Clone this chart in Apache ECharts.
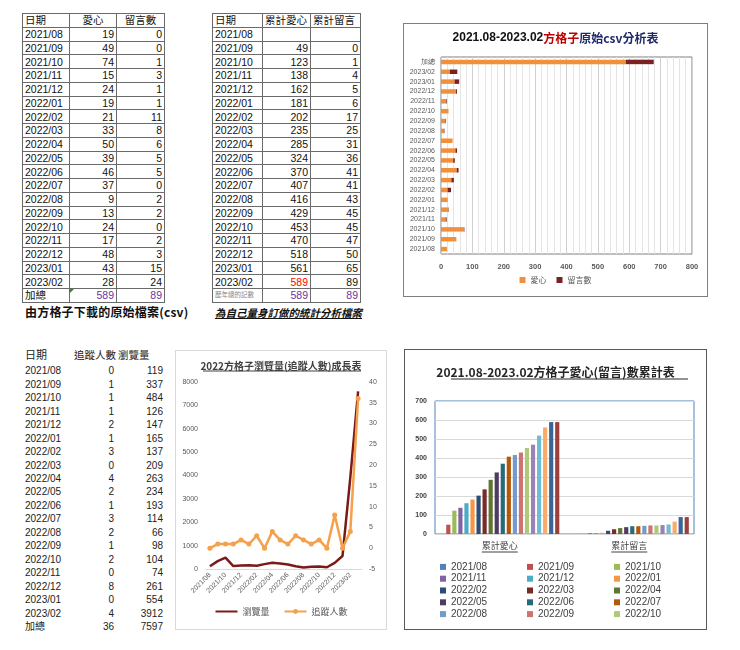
<!DOCTYPE html>
<html>
<head>
<meta charset="utf-8">
<script src="https://cdn.jsdelivr.net/npm/echarts@6/dist/echarts.min.js"></script>
<style>
body{margin:0;background:#fff;font-family:"Liberation Sans","Noto Sans CJK TC",sans-serif;color:#111;}
#page{position:relative;width:740px;height:650px;overflow:hidden;background:#fff;}
.abs{position:absolute;box-sizing:border-box;}
table{border-collapse:collapse;position:absolute;font-size:10.5px;}
table.grid td{border:1px solid #6a6a6a;padding:0 2px;height:13.75px;line-height:12px;white-space:nowrap;box-sizing:border-box;}
table.plain{font-size:10px;color:#222;}
table.plain td{padding:0;height:13.47px;line-height:13px;white-space:nowrap;}
.r{text-align:right}
.c{text-align:center}
.cap{position:absolute;font-family:"Noto Sans CJK TC",sans-serif;font-weight:bold;color:#111;white-space:nowrap;}
</style>
</head>
<body>
<div id="page">
  <div id="t1"></div>
  <div id="t2"></div>
  <div id="t3"></div>
  <div class="cap" style="left:25px;top:303px;font-size:12px;letter-spacing:0.2px;">由方格子下載的原始檔案(csv)</div>
  <div class="cap" style="left:215px;top:305px;font-size:10.5px;font-style:italic;text-decoration:underline;">為自己量身訂做的統計分析檔案</div>
  <div class="abs" style="left:403px;top:23px;width:305px;height:274px;border:1px solid #7f7f7f;"><div id="c1" style="width:303px;height:272px;"></div></div>
  <div class="abs" style="left:175px;top:350px;width:212px;height:280px;border:1px solid #d9d9d9;"><div id="c2" style="width:210px;height:278px;"></div></div>
  <div class="abs" style="left:404px;top:349px;width:303px;height:281px;border:1px solid #595959;"><div id="c3" style="width:301px;height:279px;"></div></div>
</div>
<script>
// 月份
var months = ['2021/08','2021/09','2021/10','2021/11','2021/12','2022/01','2022/02','2022/03','2022/04','2022/05',
	'2022/06','2022/07','2022/08','2022/09','2022/10','2022/11','2022/12','2023/01','2023/02'];
var totalLabel = '加總';
var historyLabel = '歷年總的記數';

// 原始csv
var likes = [19,49,74,15,24,19,21,33,50,39,46,37,9,13,24,17,48,43,28];
var comments = [0,0,1,3,1,1,11,8,6,5,5,0,2,2,0,2,3,15,24];
var likesTotal = 589, commentsTotal = 89;

// 累計
var cumLikes = [null,49,123,138,162,181,202,235,285,324,370,407,416,429,453,470,518,561,589];
var cumComments = [null,0,1,4,5,6,17,25,31,36,41,41,43,45,45,47,50,65,89];

// 追蹤 / 瀏覽
var follows = [0,1,1,1,2,1,3,0,4,2,1,3,2,1,2,0,8,0,4];
var views = [119,337,484,126,147,165,137,209,263,234,193,114,66,98,104,74,261,554,3912];
var followsTotal = 36, viewsTotal = 7597;

var excelColors = ['#4f81bd','#c0504d','#9bbb59','#8064a2','#4bacc6','#f79646',
	'#2c4d75','#772c2a','#5f7530','#4d3b62','#276a7c','#b65708',
	'#729aca','#cd7371','#afc97a','#9983b5','#6fbdd1','#f9ab6b','#3a6595','#9c3f3d'];

function v(x) { return x === null ? '' : x; }

// ---- tables ----
var h = '<table class="grid" style="left:22px;top:13px;">'
	+ '<colgroup><col style="width:47px"><col style="width:47px"><col style="width:48px"></colgroup>'
	+ '<tr><td>日期</td><td class="c">愛心</td><td class="c">留言數</td></tr>';
months.forEach(function (m, i) {
	h += '<tr><td>' + m + '</td><td class="r">' + likes[i] + '</td><td class="r">' + comments[i] + '</td></tr>';
});
h += '<tr><td>' + totalLabel + '</td><td class="r" style="color:#7030a0;position:relative;">'
	+ '<span style="position:absolute;left:0;top:0;border-top:4px solid #2e8b3a;border-right:4px solid transparent;"></span>'
	+ likesTotal + '</td><td class="r" style="color:#7030a0">' + commentsTotal + '</td></tr></table>';
document.getElementById('t1').innerHTML = h;

h = '<table class="grid" style="left:212px;top:13px;">'
	+ '<colgroup><col style="width:50px"><col style="width:48px"><col style="width:50px"></colgroup>'
	+ '<tr><td>日期</td><td>累計愛心</td><td>累計留言</td></tr>';
months.forEach(function (m, i) {
	var red = i === months.length - 1 ? ' style="color:#ff0000"' : '';
	h += '<tr><td>' + m + '</td><td class="r"' + red + '>' + v(cumLikes[i]) + '</td><td class="r">' + v(cumComments[i]) + '</td></tr>';
});
h += '<tr><td style="font-size:6.5px;color:#888">' + historyLabel + '</td><td class="r" style="color:#7030a0">' + likesTotal
	+ '</td><td class="r" style="color:#7030a0">' + commentsTotal + '</td></tr></table>';
document.getElementById('t2').innerHTML = h;

h = '<table class="plain" style="left:22px;top:347px;">'
	+ '<colgroup><col style="width:50px"><col style="width:44px"><col style="width:47px"></colgroup>'
	+ '<tr style="height:17px"><td style="padding-left:3px;font-size:11px">日期</td><td class="r" style="font-size:10.5px">追蹤人數</td><td style="padding-left:2px;font-size:10.5px">瀏覽量</td></tr>';
months.forEach(function (m, i) {
	h += '<tr><td style="padding-left:3px">' + m + '</td><td class="r" style="padding-right:2px">' + follows[i] + '</td><td class="r">' + views[i] + '</td></tr>';
});
h += '<tr><td style="padding-left:3px">' + totalLabel + '</td><td class="r" style="padding-right:2px">' + followsTotal + '</td><td class="r">' + viewsTotal + '</td></tr></table>';
document.getElementById('t3').innerHTML = h;

// ---- chart 1 ----
var c1 = echarts.init(document.getElementById('c1'));
c1.setOption({
	animation: false,
	title: {
		text: '{a|2021.08-2023.02}{b|方格子}{c|原始csv分析表}',
		left: 'center', top: 3,
		textStyle: {
			rich: {
				a: { fontSize: 12, fontWeight: 'bold', color: '#111', fontFamily: 'Liberation Sans' },
				b: { fontSize: 12, fontWeight: 'bold', color: '#c00000', fontFamily: 'Noto Sans CJK TC' },
				c: { fontSize: 12, fontWeight: 'bold', color: '#1f2a6b', fontFamily: 'Noto Sans CJK TC' }
			}
		}
	},
	grid: { left: 37, right: 15, top: 33, bottom: 42, show: true, borderColor: '#7f7f7f', borderWidth: 1 },
	legend: {
		bottom: 7, icon: 'rect', itemWidth: 6, itemHeight: 6, itemGap: 10,
		textStyle: { fontSize: 8, color: '#595959', fontFamily: 'Noto Sans CJK TC' }
	},
	xAxis: {
		type: 'value', min: 0, max: 800, interval: 100,
		axisLabel: { fontSize: 7.5, fontWeight: 'bold', color: '#595959', margin: 9 },
		axisLine: { show: false }, axisTick: { show: false },
		splitLine: { lineStyle: { color: '#d0d0d0' } },
		minorTick: { show: false, splitNumber: 5 },
		minorSplitLine: { show: true, lineStyle: { color: '#e4e4e4' } }
	},
	yAxis: {
		type: 'category', data: months.concat(totalLabel),
		axisLabel: { fontSize: 7, color: '#595959', margin: 6, interval: 0 },
		axisLine: { show: false }, axisTick: { show: false }
	},
	series: [
		{ name: '愛心', type: 'bar', stack: 's', barWidth: 4.5, data: likes.concat(likesTotal), itemStyle: { color: '#f0903c' } },
		{ name: '留言數', type: 'bar', stack: 's', barWidth: 4.5, data: comments.concat(commentsTotal), itemStyle: { color: '#7a2222' } }
	]
});

// ---- chart 2 ----
var c2 = echarts.init(document.getElementById('c2'));
c2.setOption({
	animation: false,
	title: {
		text: '2022方格子瀏覽量(追蹤人數)成長表', left: 'center', top: 5,
		textStyle: { fontSize: 10, fontWeight: 'bold', color: '#404040', fontFamily: 'Noto Sans CJK TC' }
	},
	graphic: [{ type: 'line', shape: { x1: 27, y1: 20, x2: 185, y2: 20 }, style: { stroke: '#404040', lineWidth: 1 } }],
	grid: { left: 30, right: 24, top: 31, bottom: 60 },
	legend: {
		bottom: 8, itemWidth: 22, itemHeight: 6, itemGap: 14,
		data: [{ name: '瀏覽量', itemStyle: { opacity: 0 } }, { name: '追蹤人數' }],
		textStyle: { fontSize: 9, color: '#595959', fontFamily: 'Noto Sans CJK TC' }
	},
	xAxis: {
		type: 'category', data: months.concat(totalLabel), boundaryGap: true,
		axisLabel: { rotate: 45, interval: 1, fontSize: 7, color: '#595959', margin: 5 },
		axisTick: { show: false }, axisLine: { lineStyle: { color: '#d9d9d9' } }
	},
	yAxis: [
		{ type: 'value', min: 0, max: 8000, interval: 1000, splitLine: { show: false },
			axisLabel: { fontSize: 7, color: '#595959', margin: 8, formatter: function (x) { return String(x); } } },
		{ type: 'value', min: -5, max: 40, interval: 5, splitLine: { show: false },
			axisLabel: { fontSize: 7, color: '#595959', margin: 7 } }
	],
	series: [
		{ name: '瀏覽量', type: 'line', yAxisIndex: 0, symbol: 'none', data: views.concat(viewsTotal),
			lineStyle: { color: '#7b1a1a', width: 2.5 }, itemStyle: { color: '#7b1a1a' } },
		{ name: '追蹤人數', type: 'line', yAxisIndex: 1, symbol: 'circle', symbolSize: 5, data: follows.concat(followsTotal),
			lineStyle: { color: '#f5a04a', width: 2.5 }, itemStyle: { color: '#f5a04a' } }
	]
});

// ---- chart 3 ----
var c3 = echarts.init(document.getElementById('c3'));
var cumNames = months.concat(totalLabel);
var cumLikesAll = cumLikes.concat(likesTotal);
var cumCommentsAll = cumComments.concat(commentsTotal);
var s3 = cumNames.map(function (n, i) {
	return {
		name: n, type: 'bar', barGap: '45%', barCategoryGap: '8%',
		data: [cumLikesAll[i], cumCommentsAll[i]],
		itemStyle: { color: excelColors[i] }
	};
});
c3.setOption({
	animation: false,
	title: {
		text: '2021.08-2023.02方格子愛心(留言)數累計表', left: 'center', top: 11,
		textStyle: { fontSize: 12, fontWeight: 'bold', color: '#262626', fontFamily: 'Noto Sans CJK TC' }
	},
	grid: { left: 30, right: 12, top: 51, bottom: 95, show: true, borderColor: '#4f81bd', borderWidth: 1 },
	legend: {
		data: cumNames.slice(0, 15), left: 30, top: 206, width: 266,
		icon: 'rect', itemWidth: 6, itemHeight: 6, itemGap: 0,
		textStyle: { fontSize: 10, color: '#404040', width: 76, lineHeight: 11.8 }
	},
	xAxis: {
		type: 'category', data: ['累計愛心', '累計留言'],
		axisLabel: { fontSize: 9, color: '#404040', margin: 7, fontFamily: 'Noto Sans CJK TC' },
		axisTick: { show: false }, axisLine: { show: false }
	},
	yAxis: {
		type: 'value', min: 0, max: 700, interval: 100,
		axisLabel: { fontSize: 7, fontWeight: 'bold', color: '#404040', margin: 8 },
		splitLine: { lineStyle: { color: '#d9d9d9' } }
	},
	series: s3
});
var gx = ['累計愛心', '累計留言'].map(function (c) { return c3.convertToPixel({ xAxisIndex: 0 }, c); });
var gy = c3.convertToPixel({ yAxisIndex: 0 }, 0) + 18;
c3.setOption({
	graphic: [
		{ type: 'line', shape: { x1: 46, y1: 29, x2: 283, y2: 29 }, style: { stroke: '#262626', lineWidth: 1 } },
		{ type: 'line', shape: { x1: gx[0] - 18, y1: gy, x2: gx[0] + 18, y2: gy }, style: { stroke: '#404040', lineWidth: 1 } },
		{ type: 'line', shape: { x1: gx[1] - 18, y1: gy, x2: gx[1] + 18, y2: gy }, style: { stroke: '#404040', lineWidth: 1 } }
	]
});

window.onresize = function () { c1.resize(); c2.resize(); c3.resize(); };
</script>
</body>
</html>
